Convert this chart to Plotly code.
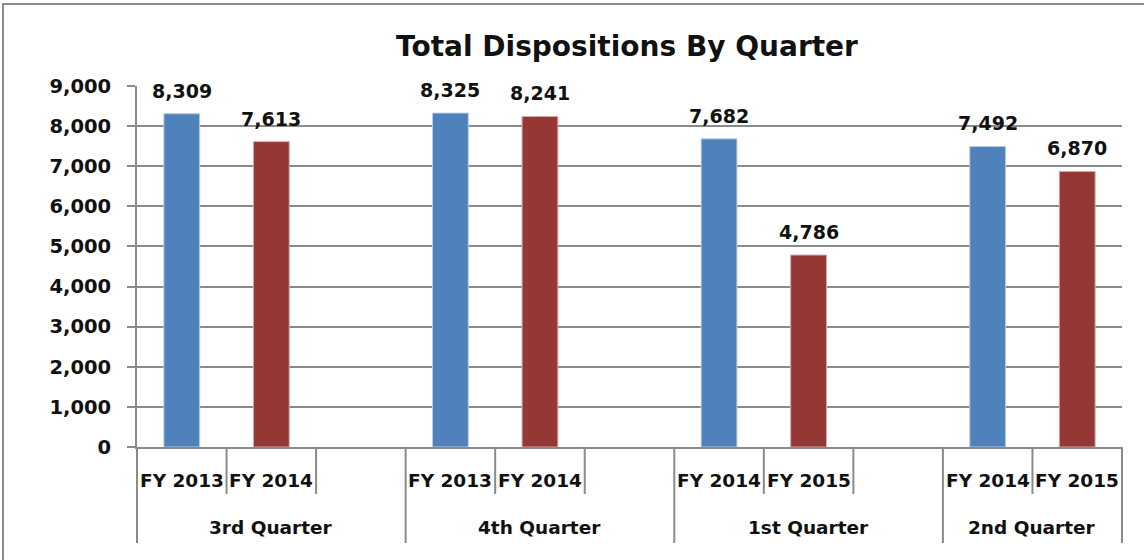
import plotly.graph_objects as go

# ---- data ----
quarters = ["3rd Quarter", "4th Quarter", "1st Quarter", "2nd Quarter"]
fy_labels = [["FY 2013", "FY 2014"], ["FY 2013", "FY 2014"],
             ["FY 2014", "FY 2015"], ["FY 2014", "FY 2015"]]
earlier_fy = [8309, 8325, 7682, 7492]
later_fy = [7613, 8241, 4786, 6870]
y_ticks = [0, 1000, 2000, 3000, 4000, 5000, 6000, 7000, 8000, 9000]

BLUE = "#4F81BD"
RED = "#953735"
GRID = "#8a8a8a"
FONT = "DejaVu Sans"
TXT = "#111111"

# slot positions: each quarter has 3 slots (2 bars + gap), last quarter 2 slots
slots_per_group = [3, 3, 3, 2]
group_start = []
s = 0
for n in slots_per_group:
    group_start.append(s)
    s += n
n_slots = s
x_blue = [g for g in group_start]
x_red = [g + 1 for g in group_start]

L, T, PW, PH = 137, 86, 985, 361

fig = go.Figure()
fig.add_trace(go.Bar(x=x_blue, y=earlier_fy, width=0.40,
                     marker=dict(color=BLUE, line=dict(color="#b9cde5", width=1)),
                     showlegend=False, hoverinfo="y"))
fig.add_trace(go.Bar(x=x_red, y=later_fy, width=0.40,
                     marker=dict(color=RED, line=dict(color="#d9a9a8", width=1)),
                     showlegend=False, hoverinfo="y"))

annotations = []
shapes = []
# data labels
for xs, vals in ((x_blue, earlier_fy), (x_red, later_fy)):
    for x, v in zip(xs, vals):
        annotations.append(dict(x=x, y=v, xref="x", yref="y", text=f"{v:,}",
                                showarrow=False, yshift=23, yanchor="middle",
                                font=dict(family=FONT, size=19, color=TXT,
                                          weight="bold")))
# category labels
for gi, (q, fys) in enumerate(zip(quarters, fy_labels)):
    g0 = group_start[gi]
    for k, lab in enumerate(fys):
        annotations.append(dict(x=g0 + k, y=0, xref="x", yref="y", text=lab,
                                showarrow=False, yshift=-33, yanchor="middle",
                                font=dict(family=FONT, size=18.5, color=TXT,
                                          weight="bold")))
    center = g0 + (slots_per_group[gi] - 1) / 2
    annotations.append(dict(x=center, y=0, xref="x", yref="y", text=q,
                            showarrow=False, yshift=-80, yanchor="middle",
                            font=dict(family=FONT, size=18.5, color=TXT,
                                      weight="bold")))

# category tick marks (short between slots, long between groups)
boundaries_long = [g - 0.5 for g in group_start] + [n_slots - 0.5]
for b in range(n_slots + 1):
    xb = b - 0.5
    length = 96 if xb in boundaries_long else 47
    xp = (xb + 0.5) / n_slots
    shapes.append(dict(type="line", xref="paper", yref="paper",
                       x0=xp, x1=xp, y0=0, y1=-length / PH,
                       line=dict(color=GRID, width=2)))

# outer chart border
shapes.append(dict(type="rect", xref="paper", yref="paper",
                   x0=(3 - L) / PW, x1=(1160 - L) / PW,
                   y0=(T + PH - 580) / PH, y1=(T + PH - 4) / PH,
                   line=dict(color="#8c8c8c", width=2), fillcolor="rgba(0,0,0,0)",
                   layer="below"))

fig.update_layout(
    width=1144, height=560,
    margin=dict(l=L, r=1144 - L - PW, t=T, b=560 - T - PH, autoexpand=False),
    paper_bgcolor="white", plot_bgcolor="white",
    barmode="overlay",
    title=dict(text="Total Dispositions By Quarter", x=627 / 1144,
               xanchor="center", y=1 - 46 / 560, yanchor="middle",
               font=dict(family=FONT, size=28, color=TXT, weight="bold")),
    xaxis=dict(range=[-0.5, n_slots - 0.5], showticklabels=False, ticks="",
               showgrid=False, zeroline=False, showline=True,
               linecolor=GRID, linewidth=2, fixedrange=True),
    yaxis=dict(range=[0, 9000], tickvals=y_ticks, tickformat=",d",
               showgrid=True, gridcolor=GRID, gridwidth=2, zeroline=False,
               showline=True, linecolor=GRID, linewidth=2,
               ticks="outside", ticklen=8, tickcolor=GRID, tickwidth=2,
               ticklabelstandoff=12,
               tickfont=dict(family=FONT, size=19.5, color=TXT, weight="bold")),
    annotations=annotations, shapes=shapes,
)

fig.write_html("out.html", config={"displayModeBar": False},
               post_script="document.body.style.margin='0';document.body.style.padding='0';")
